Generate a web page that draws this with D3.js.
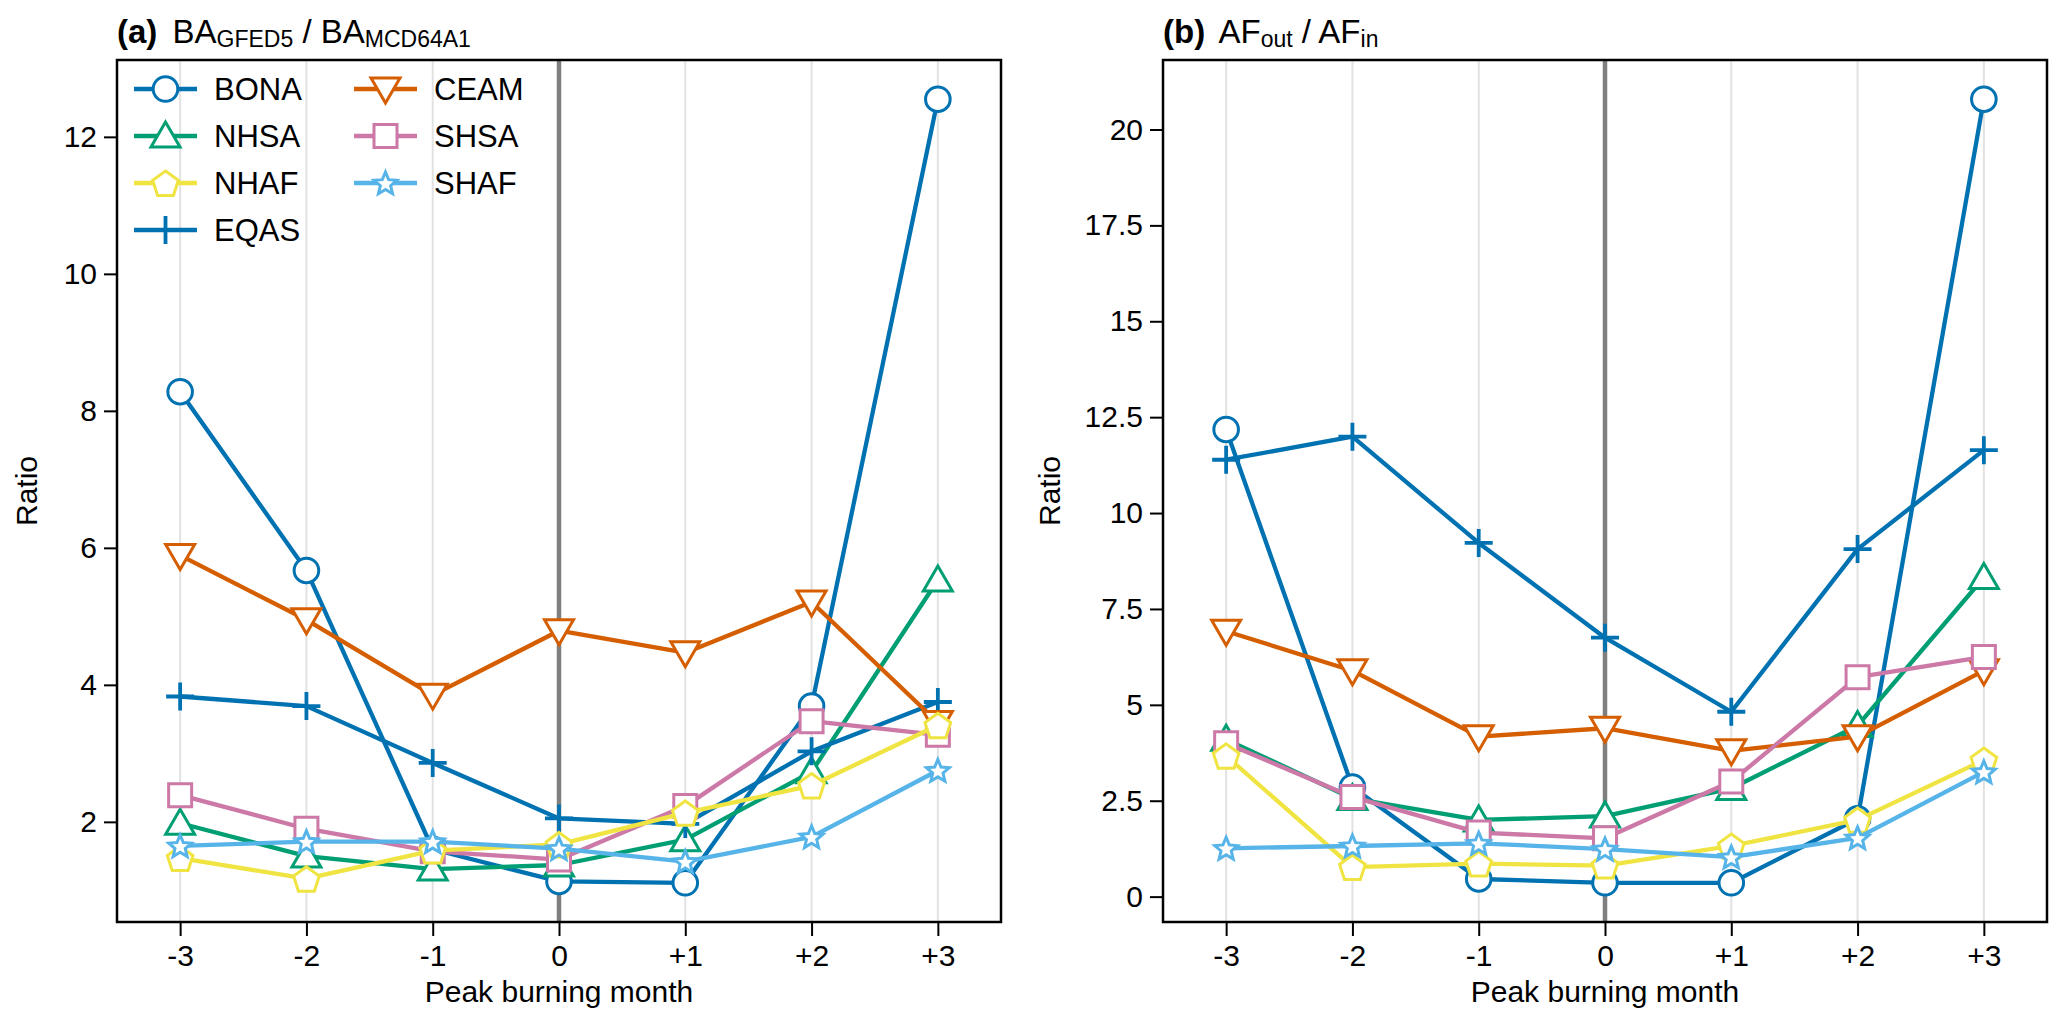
<!DOCTYPE html>
<html>
<head>
<meta charset="utf-8">
<script src="https://cdn.jsdelivr.net/npm/d3@7"></script>
<style>
  body { margin: 0; background: #fff; }
  text { font-family: "Liberation Sans", Arial, sans-serif; fill: #000; }
</style>
</head>
<body>
<script>
// x categories (months relative to peak burning month)
const months = [-3, -2, -1, 0, 1, 2, 3];
const monthLabels = ['-3', '-2', '-1', '0', '+1', '+2', '+3'];

const regions = ['BONA', 'NHSA', 'NHAF', 'EQAS', 'CEAM', 'SHSA', 'SHAF'];
// order in which the series are painted (NHAF sits above CEAM/SHSA in the original)
const drawOrder = ['BONA', 'NHSA', 'EQAS', 'CEAM', 'SHSA', 'NHAF', 'SHAF'];

// (a) BA GFED5 / BA MCD64A1
const baBONA = [8.28, 5.67, 1.60, 1.13, 1.11, 3.69, 12.55];
const baNHSA = [1.98, 1.50, 1.31, 1.37, 1.74, 2.73, 5.53];
const baNHAF = [1.47, 1.17, 1.58, 1.67, 2.13, 2.53, 3.41];
const baEQAS = [3.83, 3.69, 2.86, 2.05, 1.97, 3.03, 3.75];
const baCEAM = [5.89, 4.95, 3.85, 4.79, 4.47, 5.21, 3.45];
const baSHSA = [2.39, 1.90, 1.57, 1.45, 2.23, 3.47, 3.27];
const baSHAF = [1.65, 1.71, 1.71, 1.61, 1.42, 1.78, 2.75];

// (b) AF out / AF in
const afBONA = [12.18, 2.86, 0.46, 0.36, 0.36, 2.03, 20.79];
const afNHSA = [4.10, 2.56, 2.00, 2.10, 2.82, 4.46, 8.32];
const afNHAF = [3.67, 0.77, 0.86, 0.81, 1.32, 2.00, 3.56];
const afEQAS = [11.39, 11.99, 9.22, 6.75, 4.82, 9.06, 11.64];
const afCEAM = [6.92, 5.89, 4.17, 4.39, 3.80, 4.17, 5.89];
const afSHSA = [4.00, 2.60, 1.67, 1.52, 3.00, 5.72, 6.25];
const afSHAF = [1.26, 1.32, 1.39, 1.24, 1.03, 1.53, 3.25];

const yTicksA = [2, 4, 6, 8, 10, 12];
const yTicksB = [0, 2.5, 5, 7.5, 10, 12.5, 15, 17.5, 20];

const colors = {
    BONA: '#0072B2', NHSA: '#009E73', NHAF: '#F0E442', EQAS: '#0072B2',
    CEAM: '#D55E00', SHSA: '#CC79A7', SHAF: '#56B4E9'
};
const shapes = {
    BONA: 'circle', NHSA: 'triUp', NHAF: 'pentagon', EQAS: 'plus',
    CEAM: 'triDown', SHSA: 'square', SHAF: 'star'
};

const width = 2067;
const height = 1028;
const plotTop = 60;
const plotBottom = 922;
const fontSize = 30;

const svg = d3.select('body').append('svg')
    .attr('width', width)
    .attr('height', height);

const poly = (pts) => 'M' + pts.map(p => p[0].toFixed(2) + ',' + p[1].toFixed(2)).join('L') + 'Z';

const markerPath = (shape) => {
    if (shape === 'circle') {
        return d3.symbol(d3.symbolCircle, Math.PI * 12.3 * 12.3)();
    }
    if (shape === 'triUp') {
        return poly([[0, -14], [14.5, 11], [-14.5, 11]]);
    }
    if (shape === 'triDown') {
        return poly([[0, 14], [14.5, -11], [-14.5, -11]]);
    }
    if (shape === 'square') {
        return poly([[-11.5, -11.5], [11.5, -11.5], [11.5, 11.5], [-11.5, 11.5]]);
    }
    if (shape === 'pentagon') {
        const r = 13.5;
        return poly(d3.range(5).map(k => {
            const a = -Math.PI / 2 + k * 2 * Math.PI / 5;
            return [r * Math.cos(a), r * Math.sin(a) + 1.5];
        }));
    }
    if (shape === 'star') {
        const ro = 12, ri = 5.4;
        return poly(d3.range(10).map(k => {
            const a = -Math.PI / 2 + k * Math.PI / 5;
            const r = k % 2 ? ri : ro;
            return [r * Math.cos(a), r * Math.sin(a) + 1];
        }));
    }
    // plus
    return 'M-14,0L14,0M0,-14L0,14';
};

const styleMarker = (sel, name) => {
    const plus = shapes[name] === 'plus';
    sel.attr('stroke', colors[name])
        .attr('stroke-width', plus ? 3.8 : 3)
        .attr('fill', plus ? 'none' : '#fff');
};

const panels = [
    {
        left: 117, right: 1001, labelOffset: 80,
        data: [baBONA, baNHSA, baNHAF, baEQAS, baCEAM, baSHSA, baSHAF],
        yTicks: yTicksA,
        tag: '(a)', main1: 'BA', sub1: 'GFED5', main2: ' / BA', sub2: 'MCD64A1',
        legend: true
    },
    {
        left: 1163, right: 2047, labelOffset: 103,
        data: [afBONA, afNHSA, afNHAF, afEQAS, afCEAM, afSHSA, afSHAF],
        yTicks: yTicksB,
        tag: '(b)', main1: 'AF', sub1: 'out', main2: ' / AF', sub2: 'in',
        legend: false
    }
];

panels.forEach(pan => {
    const g = svg.append('g');

    const x = d3.scaleLinear().domain([-3.5, 3.5]).range([pan.left, pan.right]);

    // 5% padding on the data extent, like the original plot
    const all = pan.data.flat();
    const lo = d3.min(all), hi = d3.max(all);
    const pad = (hi - lo) * 0.05;
    const y = d3.scaleLinear().domain([lo - pad, hi + pad]).range([plotBottom, plotTop]);

    // vertical grid
    g.append('g').selectAll('line').data(months).join('line')
        .attr('x1', d => x(d)).attr('x2', d => x(d))
        .attr('y1', plotTop).attr('y2', plotBottom)
        .attr('stroke', '#e2e2e2').attr('stroke-width', 2);

    // peak month marker
    g.append('line')
        .attr('x1', x(0)).attr('x2', x(0))
        .attr('y1', plotTop).attr('y2', plotBottom)
        .attr('stroke', '#7f7f7f').attr('stroke-width', 4.5);

    // axes
    const xAxis = d3.axisBottom(x)
        .tickValues(months)
        .tickFormat((d, i) => monthLabels[i])
        .tickSize(14)
        .tickPadding(9);
    const gx = g.append('g')
        .attr('transform', `translate(0,${plotBottom})`)
        .call(xAxis);

    const yAxis = d3.axisLeft(y)
        .tickValues(pan.yTicks)
        .tickFormat(d => String(d))
        .tickSize(13)
        .tickPadding(7);
    const gy = g.append('g')
        .attr('transform', `translate(${pan.left},0)`)
        .call(yAxis);

    [gx, gy].forEach(ax => {
        ax.select('.domain').remove();
        ax.selectAll('.tick line').attr('stroke', '#000').attr('stroke-width', 2);
        ax.selectAll('.tick text')
            .attr('font-size', fontSize)
            .attr('font-family', '"Liberation Sans", Arial, sans-serif')
            .attr('fill', '#000');
    });

    // series lines and markers
    const line = d3.line().x((d, i) => x(months[i])).y(d => y(d));
    drawOrder.forEach(name => {
        const vals = pan.data[regions.indexOf(name)];
        g.append('path')
            .datum(vals)
            .attr('d', line)
            .attr('fill', 'none')
            .attr('stroke', colors[name])
            .attr('stroke-width', 4.3)
            .attr('stroke-linejoin', 'round');
        g.append('g').selectAll('path').data(vals).join('path')
            .attr('d', markerPath(shapes[name]))
            .attr('transform', (d, i) => `translate(${x(months[i])},${y(d)})`)
            .call(styleMarker, name);
    });

    // frame
    g.append('rect')
        .attr('x', pan.left).attr('y', plotTop)
        .attr('width', pan.right - pan.left).attr('height', plotBottom - plotTop)
        .attr('fill', 'none')
        .attr('stroke', '#000')
        .attr('stroke-width', 2.5);

    // axis labels
    g.append('text')
        .attr('x', (pan.left + pan.right) / 2)
        .attr('y', 1002)
        .attr('text-anchor', 'middle')
        .attr('font-size', fontSize)
        .text('Peak burning month');

    g.append('text')
        .attr('transform', `translate(${pan.left - pan.labelOffset},${(plotTop + plotBottom) / 2}) rotate(-90)`)
        .attr('text-anchor', 'middle')
        .attr('font-size', fontSize)
        .text('Ratio');

    // title
    const t = g.append('text')
        .attr('x', pan.left)
        .attr('y', 43)
        .attr('font-size', 33);
    t.append('tspan').attr('font-weight', 'bold').text(pan.tag);
    t.append('tspan').attr('dx', 6).text(' ' + pan.main1);
    t.append('tspan').attr('font-size', 23).attr('dy', 4).text(pan.sub1);
    t.append('tspan').attr('dy', -4).text(pan.main2);
    t.append('tspan').attr('font-size', 23).attr('dy', 4).text(pan.sub2);

    // legend
    if (pan.legend) {
        const lg = g.append('g');
        const cols = [[0, 1, 2, 3], [4, 5, 6]];
        const colX = [134, 354];
        const rowY = [89, 136, 183, 230];
        cols.forEach((col, c) => {
            col.forEach((k, r) => {
                const name = regions[k];
                const x0 = colX[c], yy = rowY[r];
                lg.append('line')
                    .attr('x1', x0).attr('x2', x0 + 63)
                    .attr('y1', yy).attr('y2', yy)
                    .attr('stroke', colors[name])
                    .attr('stroke-width', 4.3);
                lg.append('path')
                    .attr('d', markerPath(shapes[name]))
                    .attr('transform', `translate(${x0 + 31.5},${yy})`)
                    .call(styleMarker, name);
                lg.append('text')
                    .attr('x', x0 + 80)
                    .attr('y', yy + 11)
                    .attr('font-size', 31)
                    .text(name);
            });
        });
    }
});
</script>
</body>
</html>
